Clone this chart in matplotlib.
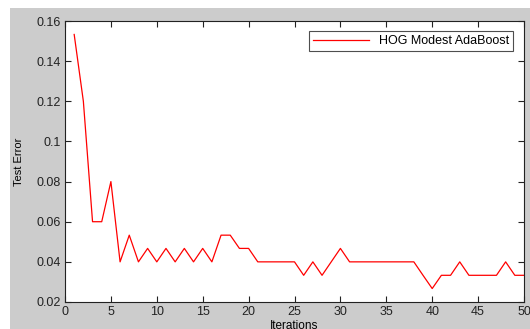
import matplotlib
matplotlib.use("Agg")
import matplotlib.pyplot as plt
from matplotlib.patches import Rectangle

plt.rcParams["font.family"] = ["Liberation Sans", "DejaVu Sans"]

iterations = list(range(1, 51))
test_error = [0.1533, 0.1200, 0.0600, 0.0600, 0.0800, 0.0400, 0.0533, 0.0400, 0.0467, 0.0400,
              0.0467, 0.0400, 0.0467, 0.0400, 0.0467, 0.0400, 0.0533, 0.0533, 0.0467, 0.0467,
              0.0400, 0.0400, 0.0400, 0.0400, 0.0400, 0.0333, 0.0400, 0.0333, 0.0400, 0.0467,
              0.0400, 0.0400, 0.0400, 0.0400, 0.0400, 0.0400, 0.0400, 0.0400, 0.0333, 0.0267,
              0.0333, 0.0333, 0.0400, 0.0333, 0.0333, 0.0333, 0.0333, 0.0400, 0.0333, 0.0333]
x_ticks = [0, 5, 10, 15, 20, 25, 30, 35, 40, 45, 50]
y_ticks = [0.02, 0.04, 0.06, 0.08, 0.1, 0.12, 0.14, 0.16]
y_tick_labels = ["0.02", "0.04", "0.06", "0.08", "0.1", "0.12", "0.14", "0.16"]

W, H = 530, 329
fig = plt.figure(figsize=(W / 100, H / 100), dpi=100)
fig.patch.set_facecolor("white")
fig.patches.append(Rectangle((10 / W, 0), 1 - 10 / W, 1 - 8 / H, transform=fig.transFigure,
                             facecolor="#cccccc", edgecolor="none", zorder=-10))

ax = fig.add_axes([65 / W, (H - 302) / H, (524 - 65) / W, (302 - 21) / H])
ax.set_facecolor("white")
ax.plot(iterations, test_error, color="#ff0000", linewidth=0.9, label="HOG Modest AdaBoost")
ax.set_xlim(0, 50)
ax.set_ylim(0.02, 0.16)
ax.set_xticks(x_ticks)
ax.set_yticks(y_ticks)
ax.set_yticklabels(y_tick_labels)
ax.tick_params(direction="in", length=4, width=0.8, labelsize=9, colors="#222222",
               top=True, right=True, pad=3)
for s in ax.spines.values():
    s.set_linewidth(0.8)
    s.set_color("#222222")
ax.set_xlabel("Iterations", fontsize=8.5, labelpad=1)
ax.set_ylabel("Test Error", fontsize=8, labelpad=9)
leg = ax.legend(loc="upper right", fontsize=9, frameon=True, fancybox=False,
                edgecolor="#222222", handlelength=4.5, borderpad=0.3,
                bbox_to_anchor=(0.99, 0.985))
leg.get_frame().set_linewidth(0.8)

fig.savefig("out.png", dpi=100, facecolor=fig.get_facecolor())
